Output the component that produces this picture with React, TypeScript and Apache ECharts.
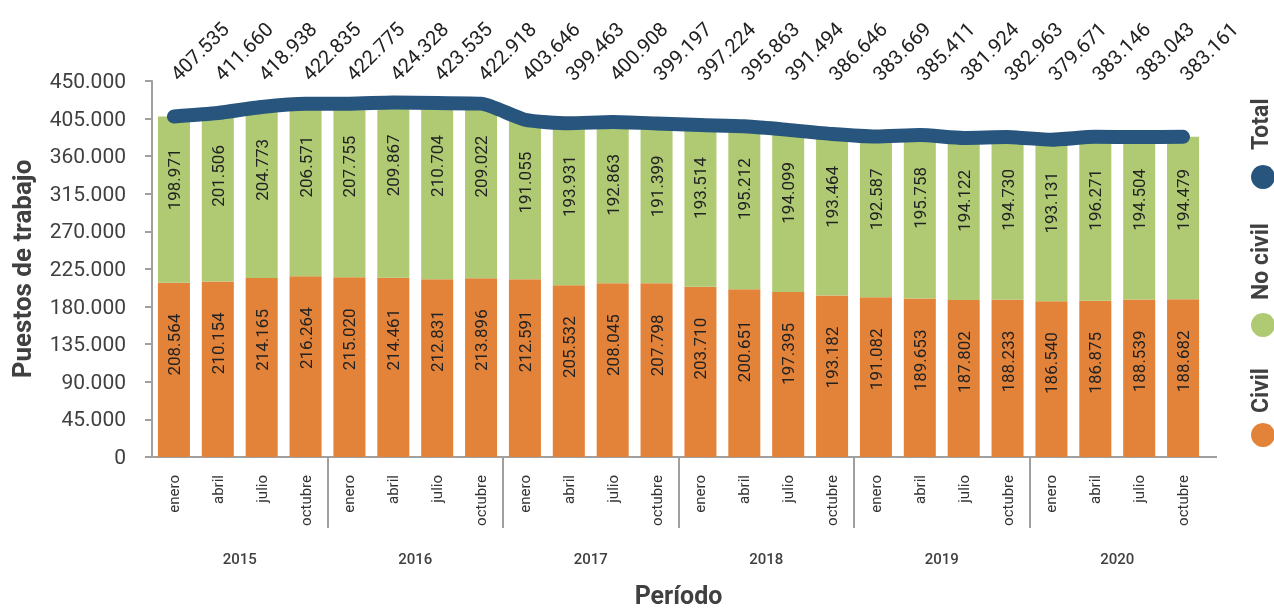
import React, { useEffect, useRef } from "react";
import * as echarts from "echarts";

const months = ["enero", "abril", "julio", "octubre"];
const years = ["2015", "2016", "2017", "2018", "2019", "2020"];
const categories: string[] = [];
years.forEach((y) => months.forEach((m) => categories.push(m + " " + y)));

const civil = [208564, 210154, 214165, 216264, 215020, 214461, 212831, 213896, 212591, 205532, 208045, 207798, 203710, 200651, 197395, 193182, 191082, 189653, 187802, 188233, 186540, 186875, 188539, 188682];
const noCivil = [198971, 201506, 204773, 206571, 207755, 209867, 210704, 209022, 191055, 193931, 192863, 191399, 193514, 195212, 194099, 193464, 192587, 195758, 194122, 194730, 193131, 196271, 194504, 194479];
const total = [407535, 411660, 418938, 422835, 422775, 424328, 423535, 422918, 403646, 399463, 400908, 399197, 397224, 395863, 391494, 386646, 383669, 385411, 381924, 382963, 379671, 383146, 383043, 383161];

const yearTickValues = [4, 8, 12, 16, 20];
const yearLabelValues = [2, 6, 10, 14, 18, 22];

const fmt = (n: number) => String(Math.round(n)).replace(/\B(?=(\d{3})+(?!\d))/g, ".");

const C_CIVIL = "#e3833a";
const C_NOCIVIL = "#afca72";
const C_TOTAL = "#27557e";
const TXT = "#404040";
const AX = "#a0a0a0";
const FONT = "Roboto";

export default function App() {
  const ref = useRef<HTMLDivElement>(null);
  useEffect(() => {
    if (!ref.current) return;
    const chart = echarts.init(ref.current, undefined, { renderer: "svg" });
    const barLabel = (dist: number) => ({
      show: true,
      position: ["50%", dist] as any,
      rotate: 90,
      align: "right",
      verticalAlign: "middle",
      color: "#222",
      fontSize: 17,
      fontFamily: FONT,
      formatter: (p: any) => fmt(p.value),
    });
    const legendText = (text: string, y: number) => ({
      type: "text",
      x: 1260,
      y,
      rotation: Math.PI / 2,
      style: { text, fill: TXT, fontSize: 23, fontWeight: "bold", fontFamily: FONT, align: "left", verticalAlign: "middle" },
    });
    chart.setOption({
      animation: false,
      textStyle: { fontFamily: FONT },
      grid: { left: 152, right: 69, top: 81, bottom: 151, containLabel: false, outerBoundsMode: "none" },
      xAxis: [
        {
          type: "category",
          data: categories,
          position: "bottom",
          name: "Período",
          nameLocation: "middle",
          nameGap: 127,
          nameTextStyle: { fontSize: 25, lineHeight: 22, fontWeight: "bold", color: TXT, fontFamily: FONT },
          axisLine: { show: true, lineStyle: { color: AX, width: 2 } },
          axisTick: { show: false },
          axisLabel: {
            rotate: 90,
            margin: 18,
            fontSize: 15,
            color: "#333",
            fontFamily: FONT,
            interval: 0,
            formatter: (v: string) => v.split(" ")[0],
          },
        },
        {
          type: "value",
          min: 0,
          max: 24,
          interval: 4,
          position: "bottom",
          axisLine: { show: false },
          splitLine: { show: false },
          axisTick: {
            show: true,
            length: 71,
            customValues: yearTickValues,
            lineStyle: { color: AX, width: 2 },
          },
          axisLabel: {
            show: true,
            customValues: yearLabelValues,
            margin: 94,
            fontSize: 15,
            fontWeight: 500,
            color: TXT,
            fontFamily: FONT,
            formatter: (v: number) => years[Math.round((v - 2) / 4)] ?? "",
          },
        },
        {
          type: "category",
          data: total.map(fmt),
          position: "top",
          axisLine: { show: false },
          axisTick: { show: false },
          axisLabel: {
            rotate: -45,
            margin: 4,
            interval: 0,
            fontSize: 20,
            color: "#222",
            fontFamily: FONT,
          },
        },
      ],
      yAxis: {
        type: "value",
        min: 0,
        max: 450000,
        interval: 45000,
        name: "Puestos de trabajo",
        nameLocation: "middle",
        nameGap: 117,
        nameTextStyle: { fontSize: 26, fontWeight: "bold", color: TXT, fontFamily: FONT },
        axisLine: { show: true, lineStyle: { color: AX, width: 2 } },
        axisTick: { show: true, length: 7, lineStyle: { color: AX, width: 2 } },
        splitLine: { show: false },
        axisLabel: {
          margin: 26,
          fontSize: 21,
          color: TXT,
          fontFamily: FONT,
          padding: [10, 0, 0, 0],
          formatter: (v: number) => fmt(v),
        },
      },
      series: [
        {
          name: "Civil",
          type: "bar",
          stack: "t",
          data: civil,
          barCategoryGap: "27%",
          itemStyle: { color: C_CIVIL },
          label: barLabel(31),
        },
        {
          name: "No civil",
          type: "bar",
          stack: "t",
          data: noCivil,
          itemStyle: { color: C_NOCIVIL },
          label: barLabel(32),
        },
        {
          name: "Total",
          type: "line",
          data: total,
          smooth: 0.2,
          showSymbol: false,
          symbol: "none",
          z: 5,
          lineStyle: { color: C_TOTAL, width: 14, cap: "round", join: "round" },
        },
      ],
      graphic: [
        { type: "line", shape: { x1: 1205, y1: 457, x2: 1217, y2: 457 }, style: { stroke: AX, lineWidth: 2 } },
        { type: "circle", shape: { cx: 1263, cy: 435, r: 12 }, style: { fill: C_CIVIL } },
        { type: "circle", shape: { cx: 1263, cy: 325, r: 12 }, style: { fill: C_NOCIVIL } },
        { type: "circle", shape: { cx: 1263, cy: 177, r: 12 }, style: { fill: C_TOTAL } },
        legendText("Civil", 413),
        legendText("No civil", 300),
        legendText("Total", 150),
      ],
    });
    return () => chart.dispose();
  }, []);
  return <div ref={ref} style={{ position: "fixed", left: 0, top: 0, width: 1274, height: 608 }} />;
}
